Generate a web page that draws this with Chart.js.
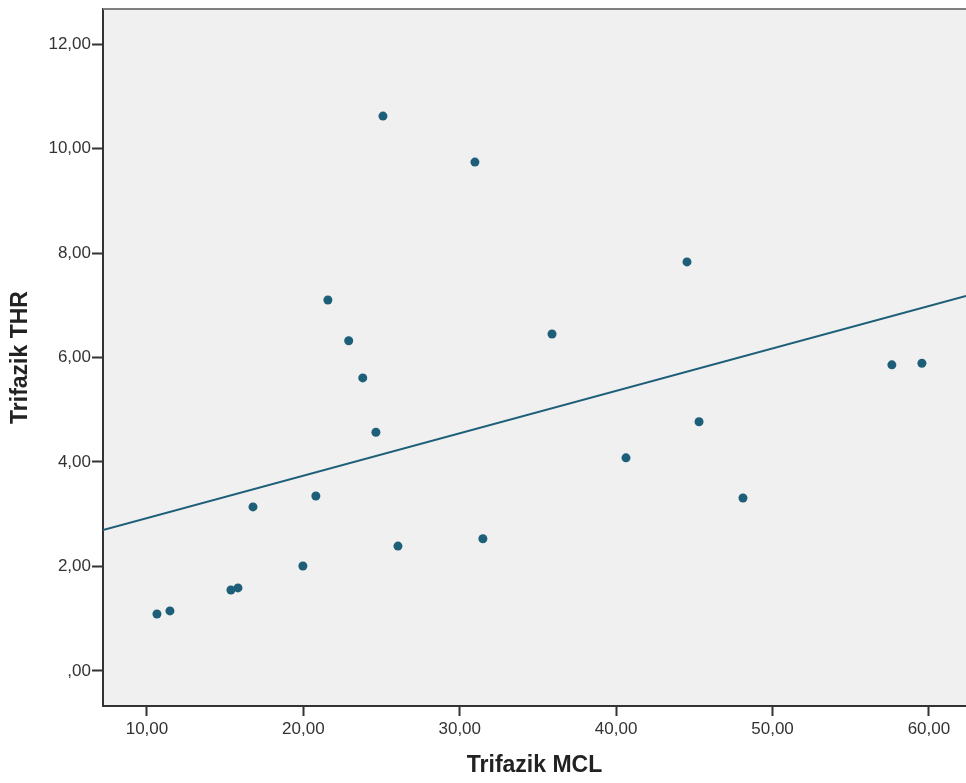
<!DOCTYPE html>
<html>
<head>
<meta charset="utf-8">
<script src="https://cdn.jsdelivr.net/npm/chart.js@4.4.1/dist/chart.umd.min.js"></script>
<style>
  html, body { margin: 0; padding: 0; background: #fff; }
  #wrap { width: 966px; height: 783px; }
</style>
</head>
<body>
<div id="wrap"><canvas id="scatter"></canvas></div>
<script>
// values
const mclValues = [10.64, 11.47, 15.37, 15.82, 16.78, 19.97, 20.8, 21.57, 22.9, 23.8, 24.64,
  25.09, 26.05, 30.97, 31.48, 35.9, 40.63, 44.53, 45.3, 48.11, 57.63, 59.55];
const thrValues = [1.09, 1.15, 1.55, 1.59, 3.14, 2.01, 3.35, 7.10, 6.32, 5.61, 4.57,
  10.62, 2.39, 9.74, 2.53, 6.45, 4.08, 7.83, 4.77, 3.31, 5.86, 5.89];
// fit line end points
const fitX = [7.19, 62.37];
const fitY = [2.70, 7.18];
const xTicks = [10, 20, 30, 40, 50, 60];
const yTicks = [0, 2, 4, 6, 8, 10, 12];

const dotColor = '#1d5f79';
const fontFamily = '"Liberation Sans", Arial, sans-serif';

const fmt = v => v === 0 ? ',00' : v.toFixed(2).replace('.', ',');

// no extra padding for edge labels, the plot fills the frame
const noPad = s => { s.paddingLeft = 0; s.paddingRight = 0; s.paddingTop = 0; s.paddingBottom = 0; };

const plotBg = {
  id: 'plotBg',
  beforeDraw(chart) {
    const { ctx, chartArea: a } = chart;
    ctx.save();
    ctx.fillStyle = '#f0f0f0';
    ctx.fillRect(a.left, a.top, a.right - a.left, a.bottom - a.top);
    ctx.restore();
  },
  afterDraw(chart) {
    const { ctx, chartArea: a } = chart;
    ctx.save();
    ctx.strokeStyle = '#808080';
    ctx.lineWidth = 2;
    ctx.beginPath();
    ctx.moveTo(a.left, a.top);
    ctx.lineTo(a.right, a.top);
    ctx.stroke();
    ctx.restore();
  }
};

const ctx = document.getElementById('scatter').getContext('2d');
new Chart(ctx, {
  type: 'scatter',
  data: {
    datasets: [{
      label: 'THR',
      data: mclValues.map((x, i) => ({ x: x, y: thrValues[i] })),
      backgroundColor: dotColor,
      borderColor: dotColor,
      pointRadius: 4.5,
      pointBorderWidth: 0
    }, {
      type: 'line',
      label: 'Fit',
      data: fitX.map((x, i) => ({ x: x, y: fitY[i] })),
      borderColor: dotColor,
      borderWidth: 2,
      pointRadius: 0,
      fill: false
    }]
  },
  options: {
    responsive: true,
    maintainAspectRatio: false,
    animation: false,
    layout: { autoPadding: false, padding: { top: 9, right: 0, left: 0, bottom: 0 } },
    plugins: { legend: { display: false }, tooltip: { enabled: false } },
    scales: {
      x: {
        type: 'linear',
        min: 7.19,
        max: 62.37,
        afterBuildTicks: s => { s.ticks = xTicks.map(v => ({ value: v })); },
        afterFit: s => { s.height = 77; noPad(s); },
        grid: { drawOnChartArea: false, drawTicks: true, tickLength: 10, tickColor: '#333', tickWidth: 2 },
        border: { display: true, color: '#333', width: 2 },
        ticks: {
          callback: v => fmt(v),
          color: '#333',
          padding: 3,
          maxRotation: 0,
          font: { family: fontFamily, size: 17 }
        },
        title: {
          display: true,
          text: 'Trifazik MCL',
          color: '#222',
          padding: { top: 0, bottom: 4 },
          font: { family: fontFamily, size: 23, weight: 'bold' }
        }
      },
      y: {
        type: 'linear',
        min: -0.67,
        max: 12.67,
        afterBuildTicks: s => { s.ticks = yTicks.map(v => ({ value: v })); },
        afterFit: s => { s.width = 103; noPad(s); },
        grid: { drawOnChartArea: false, drawTicks: true, tickLength: 11, tickColor: '#333', tickWidth: 2 },
        border: { display: true, color: '#333', width: 2 },
        ticks: {
          callback: v => fmt(v),
          color: '#333',
          padding: 1,
          font: { family: fontFamily, size: 17 }
        },
        title: {
          display: true,
          text: 'Trifazik THR',
          color: '#222',
          padding: { top: 7, bottom: 0 },
          font: { family: fontFamily, size: 23, weight: 'bold' }
        }
      }
    }
  },
  plugins: [plotBg]
});
</script>
</body>
</html>
